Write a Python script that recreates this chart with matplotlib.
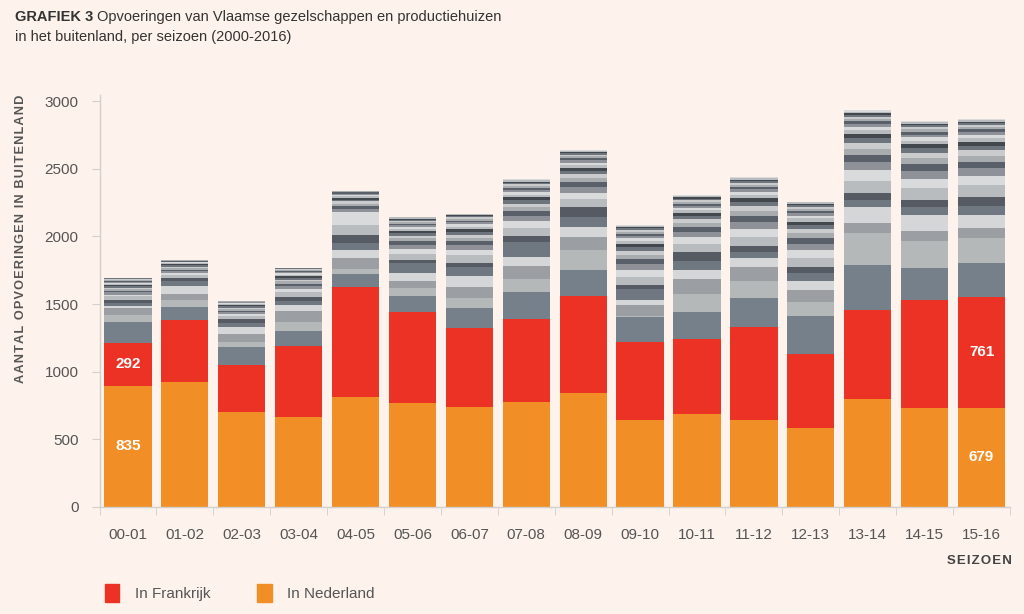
import numpy as np
import matplotlib
matplotlib.use('Agg')
import matplotlib.pyplot as plt
from matplotlib.patches import Patch

# Seizoenen en waarden
seizoenen = ['00-01', '01-02', '02-03', '03-04', '04-05', '05-06', '06-07', '07-08',
             '08-09', '09-10', '10-11', '11-12', '12-13', '13-14', '14-15', '15-16']
nederland = [897, 926, 704, 667, 815, 766, 737, 778, 845, 643, 685, 643, 586, 798, 732, 732]
frankrijk = [313, 456, 345, 523, 813, 677, 584, 611, 717, 579, 554, 685, 545, 658, 798, 822]

# grotere andere landen (grijze blokken)
land3 = [160, 98, 131, 113, 94, 116, 148, 202, 190, 180, 200, 214, 283, 333, 239, 252]
land4 = [49, 50, 42, 67, 35, 57, 78, 92, 148, 10, 135, 131, 99, 234, 200, 185]
land5 = [49, 44, 54, 79, 81, 57, 81, 98, 98, 78, 111, 103, 91, 79, 73, 69]
land6 = [15, 59, 52, 44, 62, 54, 79, 69, 74, 42, 67, 62, 69, 117, 116, 98]
land7 = [25, 39, 35, 32, 49, 74, 64, 111, 74, 82, 68, 49, 54, 50, 61, 67]
land8 = [20, 20, 25, 30, 61, 25, 35, 44, 73, 26, 67, 42, 49, 54, 50, 68]

# kleinere landen, per seizoen van onder naar boven
overige = [
    [30, 12, 18, 10, 14, 8, 12, 10, 9, 8, 7, 6, 5, 5, 8],
    [22, 15, 12, 14, 10, 9, 11, 8, 7, 8, 6, 5, 6],
    [24, 14, 16, 10, 12, 9, 11, 8, 7, 6, 8, 5, 7],
    [35, 20, 26, 14, 18, 12, 15, 10, 12, 9, 10, 8, 7, 6, 7],
    [74, 99, 20, 25, 14, 18, 12, 15, 10, 11, 8, 9, 7, 6],
    [45, 38, 30, 25, 22, 18, 20, 15, 16, 12, 14, 10, 12, 9, 11, 8, 10],
    [56, 40, 34, 28, 25, 22, 24, 18, 20, 15, 16, 12, 14, 10, 12, 8, 6],
    [60, 48, 40, 34, 30, 26, 24, 22, 20, 18, 16, 15, 14, 12, 11, 10, 9, 8],
    [58, 46, 42, 36, 30, 28, 26, 22, 20, 18, 17, 15, 14, 12, 11, 10, 8, 7],
    [62, 50, 44, 38, 32, 28, 26, 24, 22, 20, 18, 16, 14, 13, 12, 10, 8, 7],
    [60, 46, 40, 36, 30, 28, 25, 22, 20, 18, 16, 15, 14, 12, 11, 10, 9, 7],
    [70, 58, 50, 44, 38, 34, 30, 28, 25, 22, 20, 18, 16, 14, 12, 11, 10, 8],
    [66, 55, 48, 42, 36, 32, 28, 26, 24, 21, 19, 17, 15, 14, 12, 11, 9, 6],
    [90, 75, 62, 52, 46, 40, 36, 32, 28, 25, 22, 20, 18, 16, 14, 12, 12, 11],
    [85, 70, 60, 50, 44, 38, 34, 30, 27, 24, 22, 20, 18, 16, 14, 12, 11, 9],
    [84, 68, 58, 50, 44, 38, 34, 30, 27, 24, 22, 19, 17, 15, 14, 12, 10, 9],
]

# labels in de balken (gepubliceerde aantallen)
label_nederland = {0: 835, 15: 679}
label_frankrijk = {0: 292, 15: 761}

bg = '#fdf2ec'
oranje = '#f18e26'
rood = '#ec3224'
grijzen = ['#76808a', '#b4b8b9', '#9b9ea3', '#d5d6d8', '#6f7780', '#555a63']
rest_grijzen = ['#b9bcbe', '#d9dadb', '#8e9298', '#5a6069', '#a8acaf', '#c9cbcd', '#6d747c', '#43484f']
tekst = '#555555'
lijn = '#d3cfcd'

plt.rcParams['font.family'] = ['Liberation Sans', 'DejaVu Sans']


def gespatieerd(s):
    # letterspatiëring met haarspaties
    return '\u200a'.join(s)


fig = plt.figure(figsize=(10.24, 6.14), dpi=100, facecolor=bg)
ax = fig.add_axes([99.5 / 1024, 1 - 507 / 614, (1010 - 99.5) / 1024, (507 - 95) / 614])
ax.set_facecolor(bg)

x = np.arange(len(seizoenen))
breedte = 0.83
bodem = np.zeros(len(x))

ax.bar(x, nederland, breedte, color=oranje, linewidth=0)
bodem += nederland
ax.bar(x, frankrijk, breedte, bottom=bodem, color=rood, linewidth=0)
bodem += frankrijk

for k, land in enumerate([land3, land4, land5, land6, land7, land8]):
    ax.bar(x, land, breedte, bottom=bodem, color=grijzen[k], linewidth=0)
    bodem += land

for i, banden in enumerate(overige):
    b = bodem[i]
    for j, v in enumerate(banden):
        ax.bar(i, v, breedte, bottom=b, color=rest_grijzen[j % len(rest_grijzen)], linewidth=0)
        b += v

# waarden in de balken
for i, v in label_nederland.items():
    ax.text(i, nederland[i] / 2, str(v), ha='center', va='center',
            color='white', fontweight='bold', fontsize=11)
for i, v in label_frankrijk.items():
    ax.text(i, nederland[i] + frankrijk[i] / 2, str(v), ha='center', va='center',
            color='white', fontweight='bold', fontsize=11)

ax.set_xlim(-0.5, 15.5)
ax.set_ylim(0, 3045)
for s in ['top', 'right']:
    ax.spines[s].set_visible(False)
for s in ['left', 'bottom']:
    ax.spines[s].set_color(lijn)
    ax.spines[s].set_linewidth(1)

ax.set_yticks(np.arange(0, 3001, 500))
ax.tick_params(axis='y', length=6, color=lijn, pad=9, labelsize=11, labelcolor=tekst)
ax.set_xticks(x)
ax.set_xticklabels(seizoenen)
ax.tick_params(axis='x', which='major', length=0, pad=15, labelsize=11, labelcolor=tekst)
ax.set_xticks(np.arange(-0.5, 16, 1), minor=True)
ax.tick_params(axis='x', which='minor', length=6, color=lijn)

fig.text(21 / 1024, 1 - 95 / 614, gespatieerd('AANTAL OPVOERINGEN IN BUITENLAND'), rotation=90,
         va='top', ha='center', fontweight='bold', fontsize=9.2, color=tekst)
fig.text(1012 / 1024, 1 - 561 / 614, gespatieerd('SEIZOEN'), ha='right', va='center',
         fontweight='bold', fontsize=9.5, color='#444444')

# titel
t1 = fig.text(15 / 1024, 1 - 17 / 614, 'GRAFIEK 3', fontweight='bold', va='center',
              fontsize=10.5, color='#333333')
r = fig.canvas.get_renderer()
bb = t1.get_window_extent(renderer=r)
fig.text((bb.x1 + 4) / 1024, 1 - 17 / 614, 'Opvoeringen van Vlaamse gezelschappen en productiehuizen',
         va='center', fontsize=10.5, color='#333333')
fig.text(15 / 1024, 1 - 37 / 614, 'in het buitenland, per seizoen (2000-2016)',
         va='center', fontsize=10.5, color='#333333')

fig.legend(handles=[Patch(color=rood, label='In Frankrijk'), Patch(color=oranje, label='In Nederland')],
           loc='center left', bbox_to_anchor=(91 / 1024, 1 - 593 / 614), ncol=2, frameon=False,
           fontsize=11, handlelength=0.95, handleheight=1.4, columnspacing=3.1,
           handletextpad=1.0, labelcolor=tekst)

fig.savefig('out.png', dpi=100, facecolor=bg)
